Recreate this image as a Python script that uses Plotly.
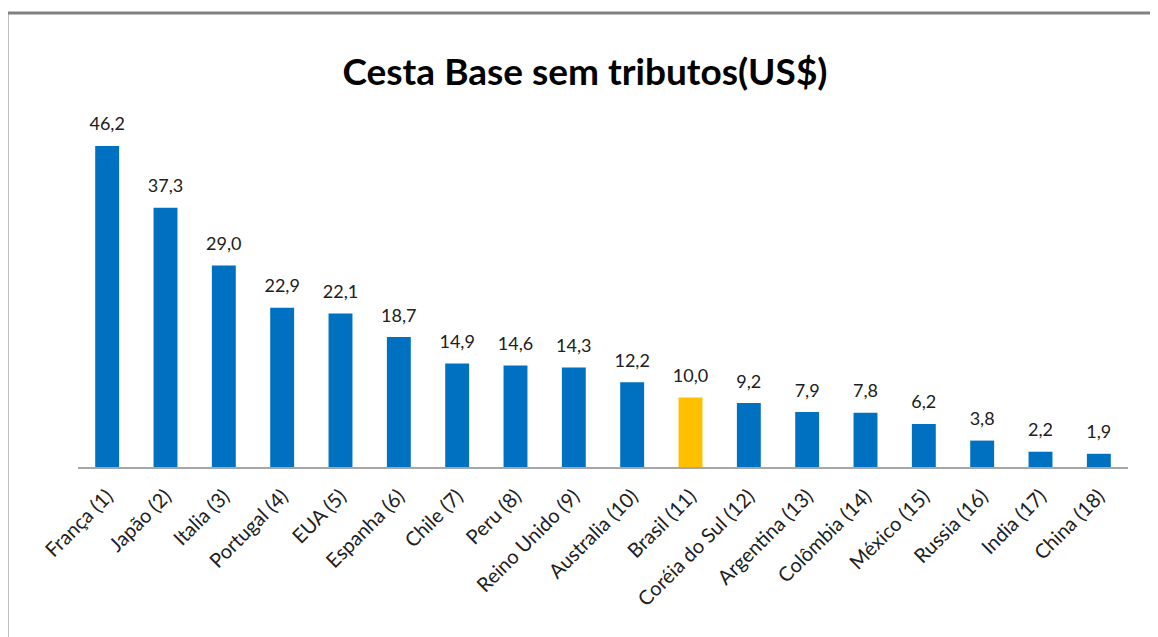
import plotly.graph_objects as go

categories = ["França (1)", "Japão (2)", "Italia (3)", "Portugal (4)", "EUA (5)", "Espanha (6)",
              "Chile (7)", "Peru (8)", "Reino Unido (9)", "Australia (10)", "Brasil (11)",
              "Coréia do Sul (12)", "Argentina (13)", "Colômbia (14)", "México (15)",
              "Russia (16)", "India (17)", "China (18)"]
values = [46.2, 37.3, 29.0, 22.9, 22.1, 18.7, 14.9, 14.6, 14.3, 12.2, 10.0,
          9.2, 7.9, 7.8, 6.2, 3.8, 2.2, 1.9]
highlight = "Brasil (11)"

BLUE = "#0070C0"
GOLD = "#FFC000"
colors = [GOLD if c == highlight else BLUE for c in categories]
labels = [f"{v:.1f}".replace(".", ",") for v in values]

OFF = 8  # page body offset
W, H = 1158 - OFF, 637 - OFF
AX_L, AX_R, AX_Y, TOP = 78, 1128, 467, 100
ML = AX_L - OFF
MR = W - (AX_R - OFF)
MT = TOP - OFF
MB = H - (AX_Y - OFF)

FONT = "Lato, Open Sans, sans-serif"

fig = go.Figure()
fig.add_trace(go.Bar(
    x=categories, y=values, marker_color=colors, marker_line_width=0,
    hoverinfo="x+y",
))
fig.add_trace(go.Scatter(
    x=categories, y=values, mode="markers+text", text=labels, textposition="top center",
    marker=dict(size=16, opacity=0), cliponaxis=False, hoverinfo="skip",
    textfont=dict(family=FONT, size=18, color="#202020"),
))

pw = W - ML - MR
ph = H - MT - MB
def px(x):
    return (x - OFF - ML) / pw
def py(y):
    return (H - MB - (y - OFF)) / ph

fig.update_layout(
    width=W, height=H,
    margin=dict(l=ML, r=MR, t=MT, b=MB, autoexpand=False),
    paper_bgcolor="white", plot_bgcolor="white",
    bargap=0.59,
    showlegend=False,
    title=dict(text="<b>Cesta Base sem tributos(US$)</b>", x=(585 - OFF) / W, xanchor="center", xref="container",
               y=1 - (72 - OFF) / H, yanchor="middle",
               font=dict(family=FONT, size=37, color="black")),
    xaxis=dict(tickangle=-45, showline=True, linecolor="#A6A6A6", linewidth=1.5,
               range=[-0.5, len(categories) - 0.5],
               ticks="", showgrid=False, automargin=False, ticklabelstandoff=8,
               tickfont=dict(family=FONT, size=20, color="#202020")),
    yaxis=dict(range=[0, ph / 6.95], visible=False, showgrid=False, zeroline=False),
    shapes=[
        dict(type="line", xref="paper", yref="paper", x0=px(7), x1=px(1170), y0=py(13), y1=py(13),
             line=dict(color="#808080", width=3)),
        dict(type="line", xref="paper", yref="paper", x0=px(7), x1=px(7), y0=py(13), y1=py(660),
             line=dict(color="#808080", width=3)),
    ],
)

fig.write_html("out.html")
